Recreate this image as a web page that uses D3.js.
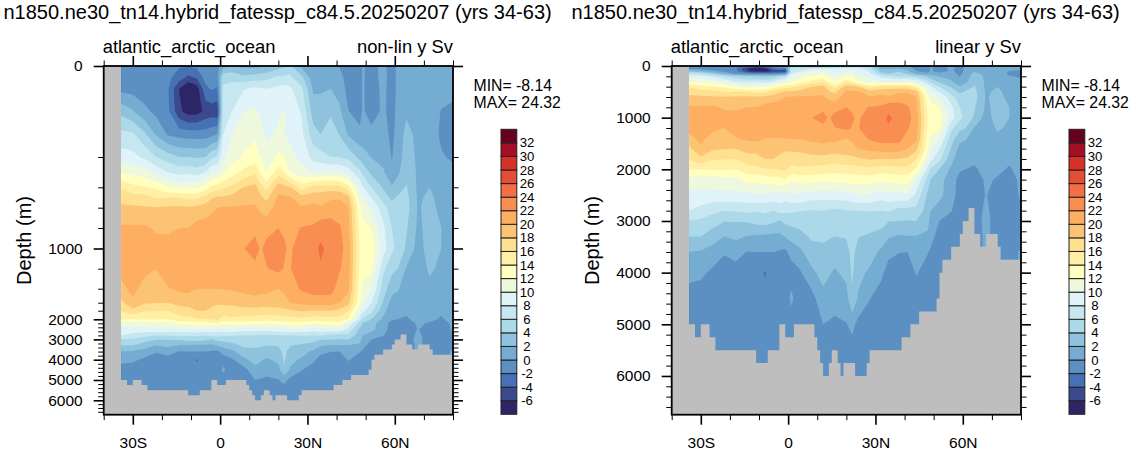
<!DOCTYPE html>
<html>
<head>
<meta charset="utf-8">
<script src="https://cdn.jsdelivr.net/npm/d3@7"></script>
<style>
  html, body { margin: 0; padding: 0; background: #fff; }
  svg { display: block; }
  text { font-family: "Liberation Sans", Arial, sans-serif; fill: #000; }
  .axis path, .axis line { stroke: #000; }
</style>
</head>
<body>
<div id="chart"></div>
<script>
const runTitle = 'n1850.ne30_tn14.hybrid_fatessp_c84.5.20250207 (yrs 34-63)';
const basinName = 'atlantic_arctic_ocean';
const minText = 'MIN= -8.14';
const maxText = 'MAX= 24.32';

// grid the values were read on
const lats = [-34, -30, -26, -22, -18, -14, -11, -8, -5, -3, -1, 1, 4, 8, 12, 14, 16, 20, 22, 24, 28, 32, 34.5, 38, 41, 44, 48, 49, 52, 56, 59, 61, 64, 68, 72, 76, 80];
const depths = [0, 25, 50, 100, 150, 200, 300, 400, 500, 600, 800, 1000, 1200, 1400, 1600, 1800, 2000, 2200, 2500, 2800, 3000, 3300, 3600, 4000, 4500, 5000, 5500, 6000];

// streamfunction (Sv), one row per latitude, one value per depth
const msfByLat = [
  [-1.2, -1, -0.6, 3.4, 6.6, 8.9, 11.8, 15.8, 17.3, 18.4, 20.3, 21, 20.7, 19.4, 17.5, 16.1, 14.1, 11.3, 9.1, 8, 5.9, 4, 2, 0.6, -0.9, -1, -1, -1],
  [-1.2, -1.1, -0.8, 2.2, 6.3, 8.6, 11.4, 14.6, 16.8, 18.4, 20.3, 21, 21, 20.6, 19.6, 17.5, 14, 10.7, 9.6, 7.2, 5.7, 4, 1.8, 0.4, -1, -1, -1, -1],
  [-1.2, -1.2, -1, 0.5, 4.4, 7.6, 10.8, 14.2, 16.8, 18.2, 20.3, 20.9, 20.6, 19.2, 18.3, 16.2, 14.1, 11, 9.3, 6.5, 4.9, 3, 1.2, -0.4, -1.2, -1.2, -1, -1],
  [-1.4, -1.3, -1.2, -0.5, 1.8, 6, 9.5, 13.6, 15.8, 18.1, 19.8, 20.6, 20, 19, 18.1, 16.1, 14.1, 11.3, 9.5, 6, 4.1, 2, 0.2, -1.1, -1.3, -1.3, -1, -1],
  [-1.3, -1.5, -1.7, -1.5, -0.2, 5, 8, 12.2, 16, 18.3, 19.7, 20.6, 20.8, 19.9, 18, 16, 14, 11.3, 9.4, 6.2, 4.1, 2.4, 0.8, -0.9, -1.3, -1.3, -1.1, -1],
  [-1.8, -3, -6.1, -5.6, -0.8, 4, 7.3, 11.3, 16, 18.4, 20, 20.8, 21, 20.4, 18.7, 17.1, 15.2, 12.6, 9.5, 6.5, 4.2, 1.9, -0.1, -1.3, -1.5, -1.4, -1.2, -1],
  [-1.8, -4.5, -8.1, -6.8, -1, 4, 7.5, 11.5, 15.5, 18.2, 20, 20.9, 21, 20.6, 18.8, 17.2, 15.4, 12.6, 9.7, 6.1, 4.7, 1.7, 0, -1.4, -1.6, -1.4, -1.2, -1],
  [-1.5, -3.7, -7, -6.8, -1, 3.8, 7, 11.7, 15.6, 18.6, 20.8, 21, 21, 20, 19, 18, 15.8, 12.9, 9.7, 6.4, 4.9, 1.6, 0, -2.1, -1.6, -1.5, -1.2, -1],
  [-0.8, -1.2, -2.5, -5.5, -1, 4, 8, 13, 16.7, 18.9, 21, 21, 21, 20, 18.9, 18, 16, 13.3, 9.3, 6, 4.4, 1.5, 0, -1.6, -1.6, -1.5, -1.2, -1],
  [-0.8, -1, -1.8, -5.2, -0.6, 5.6, 9.6, 14.4, 17.7, 19.6, 21, 21, 21, 20, 18.8, 17.4, 16, 13.2, 9.5, 6.7, 3.8, 1.5, -0.2, -1.6, -1.5, -1.4, -1.2, -1],
  [-0.5, -1, -2.2, -5.5, 0, 6.2, 10, 15, 18.4, 20, 21, 21, 21, 20, 18.4, 16.9, 16.4, 14, 9, 6.5, 4.5, 2.1, -0.5, -1.8, -1.6, -1.4, -1.2, -1],
  [1.2, 5.5, 6.3, 7, 8, 9.5, 11.5, 15.5, 18.3, 20.2, 21, 21, 21, 20.1, 18.4, 17, 15.3, 12.3, 9.7, 6.3, 4.7, 2.6, 0.8, -1.2, 0.6, -1.4, -1.2, -1],
  [2, 5.6, 6.6, 8, 10, 11, 13, 16.5, 18.6, 20.2, 21, 21, 21, 20.2, 18.6, 16.9, 15.7, 12.7, 9.8, 6.1, 5, 3.2, 1.5, -0.3, -1.5, -1.5, -1.2, -1],
  [1.5, 4.6, 7.8, 10, 11, 12.3, 14.5, 18, 19, 20.3, 21, 21.95, 21.2, 20.4, 19.2, 17.1, 15.4, 12.8, 9, 5.9, 5.1, 4.3, 3.2, 1.5, -0.8, -1.4, -1.3, -1],
  [1.5, 5, 8.5, 10.4, 11.6, 13, 15.5, 18.7, 19.4, 20.3, 21.6, 22.6, 21.6, 20.6, 19.4, 17.2, 15.2, 12.4, 9, 6, 5.2, 4.4, 3.4, 2.7, 1.4, 0, -1.1, -1],
  [1.6, 5.2, 8.2, 9.7, 10.4, 11.8, 13.5, 16.8, 18.3, 19.6, 21, 21.8, 21.5, 20.5, 19.2, 17, 15, 12.5, 9, 5.8, 5.1, 4.2, 3.2, 2.2, 1.1, -0.2, -1, -1],
  [1.8, 5.5, 8, 9, 9.6, 10.8, 12, 15.3, 17.5, 19, 21.4, 22.6, 21.9, 20.5, 19.1, 16.9, 14.8, 12.7, 9, 5.6, 5, 4, 3.1, 1.7, 0.8, -0.4, -1, -1],
  [3, 6.4, 8.5, 9.6, 10.4, 12.5, 15, 19.1, 20.4, 21, 22, 23, 22.5, 20, 19, 17.4, 15, 12.7, 9.2, 5.9, 5.3, 4.1, 3.4, 2.5, 1.3, -0.1, -1, -1],
  [3.8, 6.4, 8.8, 10.2, 10, 12, 14, 18.5, 20.3, 21, 21.8, 22.2, 21.9, 20.4, 19.3, 17.5, 15, 13, 9.5, 6, 5.4, 4.8, 4.5, 4.3, 3.7, 0.7, -1, -1],
  [4.5, 6.5, 8.4, 9.6, 9.7, 10.5, 11.8, 18.2, 20.2, 21, 21.5, 21.7, 21.9, 20.8, 20, 17.7, 15.2, 12.9, 10, 6, 5.1, 4.1, 3.4, 2.5, 1.8, -0.6, -1, -1],
  [1.5, 4.5, 6.5, 7.8, 8.5, 9.5, 10.8, 15, 18.9, 20.2, 22.1, 23, 23, 22.3, 20.5, 18.2, 15.5, 13, 9.8, 6.1, 5, 3.7, 2.8, 1.7, 0.1, -1.2, -1, -1],
  [0.3, 0.8, 1.7, 3, 4.8, 7.3, 9.8, 16.8, 19.2, 20.6, 22.3, 23.4, 23.2, 22.9, 20.9, 17.9, 15, 12.4, 9, 6, 4.8, 3.2, 1.6, 0.5, -1.1, -1.2, -1, -1],
  [0.4, 0.9, 1.7, 3, 4, 6.8, 10, 17, 19.1, 20.2, 23.3, 24.32, 23.8, 22.9, 20.9, 18, 15, 12.7, 9.4, 6.2, 4.1, 2.2, 0.6, -1, -1.3, -1.2, -1, -1],
  [0.4, 1.1, 2, 3.7, 5, 6, 10, 17, 19.7, 20.9, 23, 23.4, 23, 22.9, 21, 18, 15.3, 12.8, 9.5, 5.3, 4, 1.8, 0.1, -1.4, -1.4, -1.2, -1, -1],
  [-0.1, 0.7, 1.3, 2.4, 3.9, 5.9, 10.1, 16.8, 19.8, 20.8, 22.3, 22.8, 22.2, 21, 20, 17.6, 15.2, 12.9, 9.7, 5.2, 3.9, 1.9, 0, -1.4, -1.4, -1.2, -1, -1],
  [-1, -0.9, -0.7, 0.1, 1.8, 5.4, 9.1, 14.8, 18.8, 20.2, 20.7, 21, 20.9, 20.6, 18.7, 16.2, 13.8, 10, 7.5, 5.4, 4, 1.9, 0.1, 0.2, -1.3, -1.2, -1, -1],
  [-0.8, -0.9, -0.9, -0.9, 0.6, 3.4, 6.5, 9.5, 11, 12.4, 13.3, 14, 13.6, 13, 12.6, 10.5, 7.3, 5, 3.6, 3, 2.5, 1.7, 0.1, -1, -1.2, -1, -1, -1],
  [0.2, 0.3, 0.3, 0.3, 1, 2.8, 5.5, 8.2, 10, 11.3, 12.7, 13.6, 13, 11.5, 10.2, 8.5, 5.7, 3.9, 3, 2, 1.4, 0.7, -0.3, -1, -1.2, -1, -1, -1],
  [-0.6, -1, -1.3, -1, 0.7, 1.9, 3.5, 6, 8, 9.6, 12, 13, 12.5, 10.2, 8, 6.5, 4, 2.8, 2.5, 1.2, 0, -1, -1, -1.1, -1.1, -1, -1, -1],
  [0.5, 0.7, 0.6, 0.4, 0.8, 1.3, 2.3, 3.8, 5, 7, 8.5, 9, 6.5, 5, 3.8, 2.7, 1.6, 0.8, 1, 0.1, -0.6, -1, -1.2, -1.2, -1, -1, -1, -1],
  [-0.8, -0.9, -1, -0.8, -0.5, -0.1, 0.4, 2.2, 3.6, 4.8, 6, 6.4, 4.6, 2.6, 1.3, 0.7, 0.2, -0.6, -1, -1, -1.2, -1, -1, -1, -1, -1, -1, -1],
  [0.4, 0.5, 0.5, 0.6, 0.8, 1, 1.6, 3, 4.2, 5, 5.6, 5.5, 4, 2.2, 1.1, 0.5, 0, -0.8, -1, -1, -1.1, -1, -1, -1, -1, -1, -1, -1],
  [0.4, 0.8, 1, 1.7, 2.6, 3, 3.3, 4.2, 4.6, 4.8, 4.2, 3.7, 1.8, 1, 0.6, 0.3, -0.2, -1, -1, -0.9, -0.9, -1, -1, -1, -1, -1, -1, -1],
  [0.7, 0.9, 1, 1.2, 1.5, 1.6, 1.7, 1.6, 1.7, 1.8, 1.6, 1.2, 1, 0.9, 0.8, 0.7, 0.5, 0.3, 0.1, 0.4, 0.6, 0.4, 0.4, 0.4, 0.4, 0.4, 0.4, 0.4],
  [0.7, 0.8, 0.9, 1, 1.2, 1.5, 1.6, 2, 2.4, 2.6, 2.7, 2.9, 2.3, 1.5, 1, 0.7, 0.4, -0.2, -1, -1, -1, -0.8, -0.3, -0.3, -0.3, -0.3, -0.3, -0.3],
  [1, 1, 0.8, -0.1, -0.4, 0.2, 0.8, 1, 1.3, 1.5, 2, 2, 1.6, 1, 0.7, 0.3, -0.2, -1, -1.1, -1, -1, -1.2, -0.6, -0.6, -0.6, -0.6, -0.6, -0.6],
  [0, 0.6, 0.5, -0.4, -0.7, -0.3, 0.5, 0.6, 0.6, 0.7, 0.7, 0.7, 0.7, 0.7, 0.7, 0.7, 0.6, 0.5, 0.3, -0.3, -0.5, -0.5, 0.2, 0.2, 0.2, 0.2, 0.2, 0.2]
];

// sea floor, stepped
const floorLats = [-40, -32, -30, -27, -25, -11, -7, -3, -1, 2, 9, 10, 11, 12, 14, 15, 17, 18, 19, 23, 27, 28, 39, 42, 45, 51, 52, 53, 56, 59, 60, 62, 64, 66, 68, 72, 73, 80];
const floorDepths = [5000, 5250, 5000, 5250, 5500, 5750, 5500, 5000, 5250, 5000, 5250, 5500, 5750, 6000, 5750, 5500, 5750, 6000, 5750, 6000, 5750, 5500, 5250, 5000, 4750, 4500, 4000, 3750, 3500, 3250, 3000, 2750, 3250, 3500, 3250, 3500, 3750, 3750];

// contour levels and fill colours, lowest band first
const levels = [-6, -4, -2, 0, 2, 4, 6, 8, 10, 12, 14, 16, 18, 20, 22, 24, 26, 28, 30, 32];
const bandColors = ['#2e2566', '#3b4a8e', '#4672b5', '#5d90c2', '#74add1', '#8fc3dd', '#abd9e9', '#c6e6f0', '#e0f3f8', '#eef8dc', '#ffffbf', '#fff0a6', '#fee090', '#fdc374', '#fdae61', '#f98e52', '#f46d43', '#e54e35', '#d73027', '#a50f26', '#67001f'];

const latMajor = [-30, 0, 30, 60];
const latLabels = ['30S', '0', '30N', '60N'];
const latMinor = [-40, -20, -10, 10, 20, 40, 50, 70, 80];
const depthMajor = [0, 1000, 2000, 3000, 4000, 5000, 6000];
const depthMinor = d3.range(200, 6800, 200).filter(d => d % 1000 !== 0);

const width = 1134;
const height = 454;
const svg = d3.select('#chart').append('svg').attr('width', width).attr('height', height);

const plotTop = 66;
const plotBottom = 414.7;

// depth scales of the two panels
const nonLinY = d3.scaleLinear()
  .domain([0, 200, 400, 600, 800, 1000, 1200, 1400, 1600, 1800, 2000, 3000, 4000, 5000, 6000, 6750])
  .range([plotTop, 157, 187.3, 207.7, 228, 248.5, 268.7, 288.7, 302.7, 310.7, 319.3, 339.4, 359.7, 380, 400.3, plotBottom]);
const linearY = d3.scaleLinear().domain([0, 6750]).range([plotTop, plotBottom]);

const flat = [];
depths.forEach((d, j) => lats.forEach((l, i) => flat.push(msfByLat[i][j])));
const contourGen = d3.contours().size([lats.length, depths.length]).smooth(true);
const bands = [-100].concat(levels).map((t, i) => ({ geo: contourGen.contour(flat, t), color: bandColors[i] }));

function drawPanel(offset, yScale, rightText) {
  const x0 = 103.7 + offset;
  const x = d3.scaleLinear().domain([-40, 80]).range([x0, x0 + 349.3]);
  const g = svg.append('g');

  g.append('text').attr('x', 3.5 + offset).attr('y', 19).style('font-size', '20px').text(runTitle);
  g.append('text').attr('x', x0 - 1).attr('y', 52.5).style('font-size', '18.4px').text(basinName);
  g.append('text').attr('x', x0 + 349.3).attr('y', 52.5).attr('text-anchor', 'end').style('font-size', '18.4px').text(rightText);

  g.append('rect').attr('x', x0).attr('y', plotTop).attr('width', 349.3).attr('height', plotBottom - plotTop).attr('fill', '#bebebe');

  // contour grid coordinates -> lat/depth -> pixels
  const colLat = d3.scaleLinear().domain(d3.range(lats.length)).range(lats).clamp(true);
  const rowDepth = d3.scaleLinear().domain(d3.range(depths.length)).range(depths).clamp(true);
  const project = d3.geoTransform({
    point(cx, cy) {
      this.stream.point(x(colLat(cx - 0.5)), yScale(rowDepth(cy - 0.5)));
    }
  });
  const path = d3.geoPath(project);
  g.selectAll('path.band').data(bands).enter().append('path')
    .attr('class', 'band')
    .attr('d', d => path(d.geo))
    .attr('fill', d => d.color);

  const floor = d3.area().curve(d3.curveStepAfter)
    .x((d, i) => x(floorLats[i]))
    .y0(plotBottom)
    .y1(d => yScale(d));
  g.append('path').attr('d', floor(floorDepths)).attr('fill', '#bebebe');

  // lat axes, ticks on the outside
  [[d3.axisBottom, plotBottom], [d3.axisTop, plotTop]].forEach(([axisFn, yPos], k) => {
    const minor = axisFn(x).tickValues(latMinor).tickSize(5.5).tickFormat('');
    const major = axisFn(x).tickValues(latMajor).tickSize(10).tickPadding(12)
      .tickFormat((d, i) => k === 0 ? latLabels[i] : '');
    g.append('g').attr('class', 'axis').attr('transform', `translate(0,${yPos})`).call(minor);
    const ax = g.append('g').attr('class', 'axis').attr('transform', `translate(0,${yPos})`).call(major);
    ax.selectAll('line').attr('stroke-width', 1.6);
    ax.selectAll('text').style('font-size', '15.5px').style('font-family', '"Liberation Sans", Arial, sans-serif');
  });

  // depth axes
  [[d3.axisLeft, x0], [d3.axisRight, x0 + 349.3]].forEach(([axisFn, xPos], k) => {
    const minor = axisFn(yScale).tickValues(depthMinor).tickSize(5.5).tickFormat('');
    const major = axisFn(yScale).tickValues(depthMajor).tickSize(10).tickPadding(11)
      .tickFormat(d => k === 0 ? d : '');
    g.append('g').attr('class', 'axis').attr('transform', `translate(${xPos},0)`).call(minor);
    const ax = g.append('g').attr('class', 'axis').attr('transform', `translate(${xPos},0)`).call(major);
    ax.selectAll('line').attr('stroke-width', 1.6);
    ax.selectAll('text').style('font-size', '15.5px').style('font-family', '"Liberation Sans", Arial, sans-serif');
  });

  g.selectAll('.axis path').attr('stroke-width', 1.8).attr('d', null);
  g.append('rect').attr('x', x0).attr('y', plotTop).attr('width', 349.3).attr('height', plotBottom - plotTop)
    .attr('fill', 'none').attr('stroke', '#000').attr('stroke-width', 1.8);

  g.append('text')
    .attr('transform', `translate(${31 + offset},240.5) rotate(-90)`)
    .attr('text-anchor', 'middle')
    .style('font-size', '20px')
    .text('Depth (m)');

  g.append('text').attr('x', 473.5 + offset).attr('y', 90.5).style('font-size', '15.8px').text(minText);
  g.append('text').attr('x', 473.5 + offset).attr('y', 107.5).style('font-size', '15.8px').text(maxText);

  // colour bar
  const barY = d3.scaleLinear().domain([-8, 34]).range([414.3, 129.3]);
  const barX = 501 + offset;
  const barW = 15.8;
  g.selectAll('rect.box').data(bandColors).enter().append('rect')
    .attr('class', 'box')
    .attr('x', barX)
    .attr('y', (d, i) => barY(-8 + (i + 1) * 2))
    .attr('width', barW)
    .attr('height', (d, i) => barY(-8 + i * 2) - barY(-8 + (i + 1) * 2))
    .attr('fill', d => d)
    .attr('stroke', '#222')
    .attr('stroke-width', 1);
  g.selectAll('text.lev').data(levels).enter().append('text')
    .attr('class', 'lev')
    .attr('x', barX + 26)
    .attr('y', d => barY(d) + 4.6)
    .attr('text-anchor', 'middle')
    .style('font-size', '13.2px')
    .text(d => d);
}

drawPanel(0, nonLinY, 'non-lin y Sv');
drawPanel(568, linearY, 'linear y Sv');
</script>
</body>
</html>
